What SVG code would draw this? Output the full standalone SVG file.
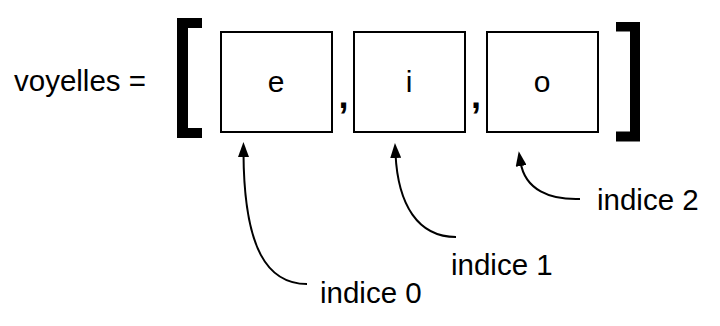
<svg xmlns="http://www.w3.org/2000/svg" width="720" height="326" viewBox="0 0 720 326">
<style>
text{font-family:"Liberation Sans",Arial,sans-serif;fill:#000}
.lbl{font-size:29.5px}
.cell rect{fill:#fff;stroke:#000;stroke-width:2}
.cell text{font-size:30px;text-anchor:middle}
.comma{font-size:36px;font-weight:bold}
.br{fill:#000}
.conn path{fill:none;stroke:#000;stroke-width:2}
</style>
<defs>
<marker id="ah" viewBox="0 0 15 11" refX="4" refY="5.5" markerWidth="15" markerHeight="11" markerUnits="userSpaceOnUse" orient="auto">
<path d="M0,0 L15,5.5 L0,11 z" fill="#000"/>
</marker>
</defs>
<rect width="720" height="326" fill="#fff"/>
<g id="label"><text class="lbl" x="14" y="90.5">voyelles =</text></g>
<g id="bracket-left"><path class="br" d="M177,18 H202 V28 H188 V128 H202 V138 H177 z"/></g>
<g id="cell-e" class="cell"><rect x="221" y="32" width="111" height="100"/><text x="276" y="92">e</text></g>
<g id="comma-1"><text class="comma" x="338.5" y="108">,</text></g>
<g id="cell-i" class="cell"><rect x="354" y="32" width="111" height="100"/><text x="409" y="92">i</text></g>
<g id="comma-2"><text class="comma" x="471" y="108">,</text></g>
<g id="cell-o" class="cell"><rect x="487" y="32" width="111" height="100"/><text x="542" y="92">o</text></g>
<g id="bracket-right"><path class="br" d="M616,22 H640 V141.5 H616 V131.5 H630 V31.5 H616 z"/></g>
<g id="idx0"><text class="lbl" x="320" y="302.5">indice 0</text></g>
<g id="idx1"><text class="lbl" x="451" y="275">indice 1</text></g>
<g id="idx2"><text class="lbl" x="597" y="210">indice 2</text></g>
<g class="conn">
<path d="M307,284 C268,284 244,250 243.5,153" marker-end="url(#ah)"/>
<path d="M456,237 C418,237 398,205 395.5,154" marker-end="url(#ah)"/>
<path d="M580,199 C550,200 525,190 520.5,162" marker-end="url(#ah)"/>
</g>
</svg>
